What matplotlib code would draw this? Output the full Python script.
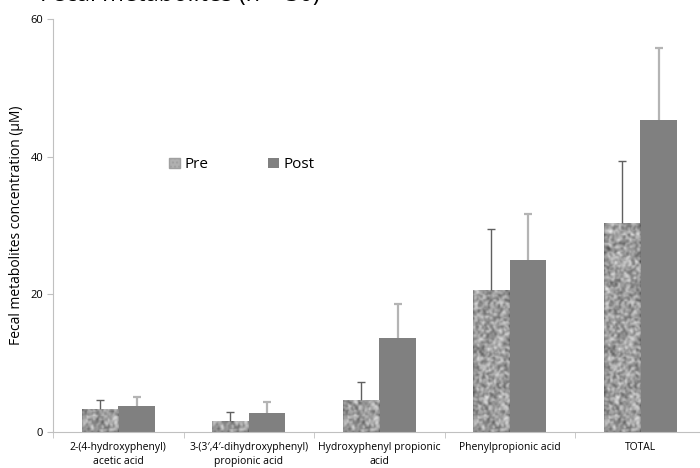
#!/usr/bin/env python3

import numpy as np
import matplotlib
matplotlib.use("Agg")
import matplotlib.pyplot as plt
from matplotlib.patches import Patch

categories = ["2-(4-hydroxyphenyl)\nacetic acid",
              "3-(3\u2032,4\u2032-dihydroxyphenyl)\npropionic acid",
              "Hydroxyphenyl propionic\nacid",
              "Phenylpropionic acid",
              "TOTAL"]
pre = [3.4, 1.6, 4.6, 20.6, 30.4]
pre_err = [1.3, 1.3, 2.7, 8.9, 9.0]
post = [3.8, 2.8, 13.7, 25.0, 45.3]
post_err = [1.3, 1.6, 4.9, 6.7, 10.5]
yticks = [0, 20, 40, 60]

plt.rcParams["font.family"] = ["Open Sans", "DejaVu Sans"]

fig = plt.figure(figsize=(7, 4.68), dpi=100)
ax = fig.add_axes([53 / 700, 36 / 468, 652.5 / 700, 413 / 468])

x = np.arange(len(categories))
w = 0.28

# granite-like texture for the "Pre" bars (fixed seed, only a fill pattern)
rng = np.random.default_rng(3)
noise = rng.random((320, 30))
k = np.array([0.25, 0.5, 0.25])
noise = np.apply_along_axis(lambda r: np.convolve(r, k, mode="same"), 1, noise)
noise = np.apply_along_axis(lambda c: np.convolve(c, k, mode="same"), 0, noise)
noise = (noise - noise.min()) / (noise.max() - noise.min())

pre_bars = ax.bar(x - w / 2, pre, w, color="#b0b0b0", zorder=2)
for b in pre_bars:
    x0 = b.get_x()
    im = ax.imshow(noise, cmap="gray", vmin=-0.55, vmax=1.15, aspect="auto",
                   extent=[x0, x0 + b.get_width(), 0, 60], zorder=2.5,
                   interpolation="bilinear")
    im.set_clip_path(b)

eb = ax.errorbar(x - w / 2, pre, yerr=[np.zeros(len(pre)), pre_err], fmt="none",
                 ecolor="#606060", elinewidth=1, capsize=3, capthick=1, zorder=3)
eb[1][0].set_visible(False)

ax.bar(x + w / 2, post, w, color="#808080", zorder=2)
eb = ax.errorbar(x + w / 2, post, yerr=[np.zeros(len(post)), post_err], fmt="none",
                 ecolor="#b4b4b4", elinewidth=1.6, capsize=3, capthick=1.6, zorder=3)
eb[1][0].set_visible(False)

ax.set_xlim(-0.5, len(categories) - 0.5)
ax.set_ylim(0, 60)
ax.set_yticks(yticks)
ax.set_xticks(x)
ax.set_xticklabels(categories, fontsize=7.5, linespacing=1.45)
ax.set_xticks(np.arange(len(categories) + 1) - 0.5, minor=True)
ax.tick_params(axis="x", which="major", length=0, pad=7)
ax.tick_params(axis="x", which="minor", length=4, color="#c0c0c0", direction="out")
ax.tick_params(axis="y", length=4, color="#c0c0c0", labelsize=8, pad=3)
for s in ["top", "right"]:
    ax.spines[s].set_visible(False)
for s in ["left", "bottom"]:
    ax.spines[s].set_color("#c0c0c0")
ax.set_ylabel("Fecal metabolites concentration (\u03bcM)", fontsize=10, labelpad=5)

handles = [Patch(facecolor="#b0b0b0", edgecolor="#a0a0a0", hatch="...."),
           Patch(facecolor="#808080")]
ax.legend(handles, ["Pre", "Post"], loc="center left", bbox_to_anchor=(0.157, 0.647),
          ncol=2, frameon=False, fontsize=11, columnspacing=3.9, handlelength=0.7,
          handleheight=0.7, handletextpad=0.3)

# title partly outside the top edge, as in the source image
fig.text(0.057, 1 - 0.8 / 468, "Fecal metabolites (n = 30)", fontsize=17, va="baseline")

fig.savefig("out.png", dpi=100)
